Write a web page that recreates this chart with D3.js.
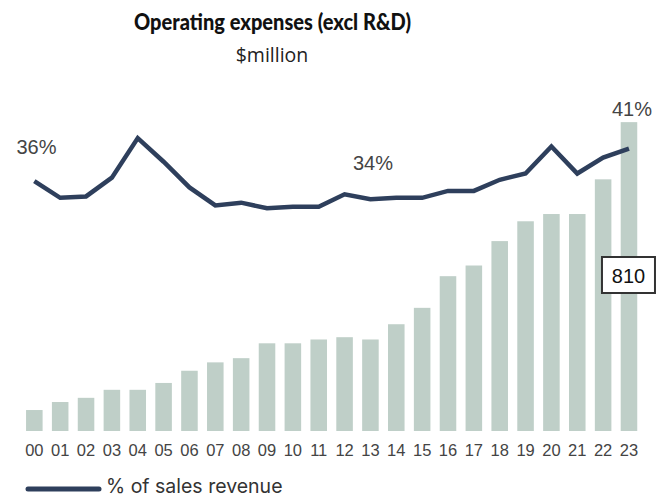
<!DOCTYPE html>
<html><head><meta charset="utf-8">
<script src="https://cdn.jsdelivr.net/npm/d3@7"></script>
<style>
html,body{margin:0;padding:0;background:#fff;}
svg{display:block;}
</style></head>
<body>
<script>
const years = ["00","01","02","03","04","05","06","07","08","09","10","11","12","13","14","15","16","17","18","19","20","21","22","23"];
const opex = [55,76,87,108,108,126,158,180,191,230,230,240,246,240,280,323,406,434,498,550,569,569,660,810];
const pctSales = [36.0,33.6,33.8,36.5,42.2,38.8,35.1,32.5,32.9,32.1,32.3,32.3,34.1,33.4,33.6,33.6,34.6,34.6,36.2,37.1,41.0,37.1,39.4,40.7];
const pctLabels = [{i:0,text:"36%"},{i:13,text:"34%"},{i:23,text:"41%"}];
const valueLabel = {i:23,text:"810"};
const title = "Operating expenses (excl R&D)";
const subtitle = "$million";
const legendLabel = "% of sales revenue";

const W=656,H=496;
const svg=d3.select("body").append("svg").attr("width",W).attr("height",H);

const x=d3.scaleBand().domain(years).range([21.4,641.9]).paddingInner(0.36).paddingOuter(0.18);
const yBar=d3.scaleLinear().domain([0,910]).range([431,84]);
const yLine=d3.scaleLinear().domain([0,50]).range([431,84]);

// title
svg.append("text").attr("x",272.5).attr("y",29.5).attr("text-anchor","middle")
  .attr("font-family","Lato, 'Open Sans', sans-serif").attr("font-weight",900).attr("font-size",22)
  .attr("textLength",277).attr("lengthAdjust","spacingAndGlyphs")
  .attr("fill","#111").text(title);
svg.append("text").attr("x",272).attr("y",61.5).attr("text-anchor","middle")
  .attr("font-family","'Open Sans', Lato, sans-serif").attr("font-size",19.5)
  .attr("fill","#222").text(subtitle);

// bars
svg.append("g").selectAll("rect").data(opex).join("rect")
  .attr("x",(d,i)=>x(years[i])).attr("width",x.bandwidth())
  .attr("y",d=>yBar(d)).attr("height",d=>yBar(0)-yBar(d))
  .attr("fill","#bfcfc8");

// x axis
const xAxis=d3.axisBottom(x).tickSize(0).tickPadding(0);
const gx=svg.append("g").attr("transform","translate(0,444)").call(xAxis);
gx.select(".domain").remove();
gx.selectAll("text").attr("font-family","'Liberation Sans', Arial, sans-serif").attr("font-size",16.5).attr("fill","#444").attr("dy","0.71em");

// line
const line=d3.line().x((d,i)=>x(years[i])+x.bandwidth()/2).y(d=>yLine(d));
svg.append("path").datum(pctSales).attr("d",line).attr("fill","none")
  .attr("stroke","#2e3f5c").attr("stroke-width",4.5).attr("stroke-linejoin","miter");

// pct labels
const labelY={0:154,13:170,23:116};
const labelX={0:36.5,13:373,23:632};
svg.append("g").selectAll("text").data(pctLabels).join("text")
  .attr("x",d=>labelX[d.i]).attr("y",d=>labelY[d.i]).attr("text-anchor","middle")
  .attr("font-family","'Liberation Sans', Arial, sans-serif").attr("font-size",20)
  .attr("fill","#444").text(d=>d.text);

// value box
const bx=x(years[valueLabel.i])+x.bandwidth()/2;
const g810=svg.append("g");
g810.append("rect").attr("x",bx-27).attr("y",257).attr("width",53).attr("height",36)
  .attr("fill","#fff").attr("stroke","#333").attr("stroke-width",2);
g810.append("text").attr("x",bx-0.5).attr("y",283).attr("text-anchor","middle")
  .attr("font-family","'Liberation Sans', Arial, sans-serif").attr("font-size",20)
  .attr("fill","#111").text(valueLabel.text);

// legend
svg.append("line").attr("x1",28).attr("x2",99).attr("y1",489).attr("y2",489)
  .attr("stroke","#2e3f5c").attr("stroke-width",5).attr("stroke-linecap","round");
svg.append("text").attr("x",106).attr("y",492.5)
  .attr("font-family","Inter, 'Liberation Sans', sans-serif").attr("font-size",19.5)
  .attr("fill","#333").text(legendLabel);
</script>
</body></html>
